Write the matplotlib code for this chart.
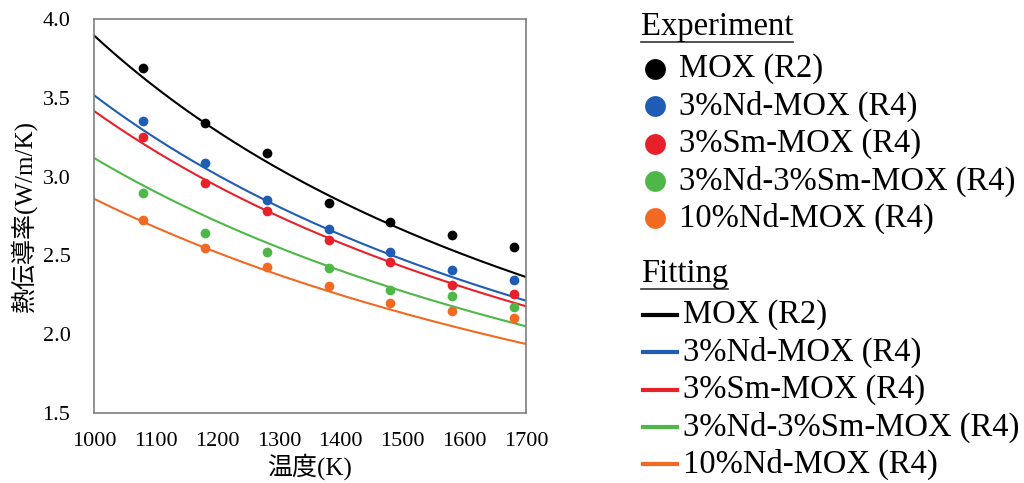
import numpy as np
import matplotlib.pyplot as plt
from matplotlib.lines import Line2D

plt.rcParams['font.family'] = ['Liberation Serif', 'Noto Sans CJK JP']

# measured thermal conductivity (W/m/K)
temp = [1080, 1180, 1280, 1380, 1480, 1580, 1680]
k_mox = [3.69, 3.34, 3.15, 2.83, 2.71, 2.63, 2.555]
k_nd3 = [3.355, 3.085, 2.85, 2.67, 2.52, 2.41, 2.345]
k_sm3 = [3.25, 2.96, 2.78, 2.595, 2.46, 2.31, 2.255]
k_ndsm = [2.895, 2.645, 2.52, 2.42, 2.28, 2.24, 2.175]
k_nd10 = [2.725, 2.55, 2.425, 2.305, 2.195, 2.145, 2.105]

# fitting k = 1/(A + B*T)
fit_A = [0.0188, 0.0451, 0.0547, 0.0820, 0.1121]
fit_B = [2.379e-4, 2.393e-4, 2.380e-4, 2.387e-4, 2.376e-4]

labels = ["MOX (R2)", "3%Nd-MOX (R4)", "3%Sm-MOX (R4)",
          "3%Nd-3%Sm-MOX (R4)", "10%Nd-MOX (R4)"]
cols = ["#000000", "#1F5CB4", "#E8202A", "#4DB848", "#F26A22"]
data = [k_mox, k_nd3, k_sm3, k_ndsm, k_nd10]

fig = plt.figure(figsize=(10.24, 4.83), dpi=100)
ax = fig.add_axes([94/1024, 70/483, 432/1024, 394/483])

T = np.linspace(1000, 1700, 300)
for A, B, c in zip(fit_A, fit_B, cols):
    ax.plot(T, 1/(A + B*T), color=c, lw=1.5)
for k, c in zip(data, cols):
    ax.plot(temp, k, 'o', color=c, ms=7, mec='none')

ax.set_xlim(1000, 1700)
ax.set_ylim(1.5, 4.0)
ax.set_xticks(range(1000, 1701, 100))
ax.set_yticks([1.5, 2.0, 2.5, 3.0, 3.5, 4.0])
ax.set_yticklabels(["%.1f" % v for v in [1.5, 2.0, 2.5, 3.0, 3.5, 4.0]])
ax.tick_params(length=0, labelsize=16)
ax.tick_params(axis='x', pad=14)
ax.tick_params(axis='y', pad=17)
for s in ax.spines.values():
    s.set_color("#7f7f7f")
    s.set_linewidth(1.2)
ax.set_xlabel("温度(K)", fontsize=18, labelpad=1)
ax.set_ylabel("熱伝導率(W/m/K)", fontsize=18, labelpad=4)

# legend drawn by hand in pixel coordinates
W, H = 1024, 483
def px(x, y):
    return x/W, 1 - y/H

def title(x, y, txt):
    t = fig.text(*px(x, y), txt, fontsize=23.5, va='center', ha='left')
    fig.canvas.draw()
    bb = t.get_window_extent()
    yl = 1 - (y + 15)/H
    fig.add_artist(Line2D([bb.x0/W, bb.x1/W], [yl, yl], color='#333333', lw=1.2))

title(641, 27, "Experiment")
for i, (lab, c) in enumerate(zip(labels, cols)):
    y = 69 + i*37.3
    fig.add_artist(Line2D([655/W], [1 - y/H], marker='o', ms=15,
                          color=c, mec='none'))
    fig.text(*px(679, y), lab, fontsize=23.5, va='center', ha='left')

title(641, 274, "Fitting")
for i, (lab, c) in enumerate(zip(labels, cols)):
    y = 315 + i*37.3
    fig.add_artist(Line2D([643/W, 677/W], [1 - y/H]*2, color=c, lw=3))
    fig.text(*px(683, y), lab, fontsize=23.5, va='center', ha='left')

fig.savefig("out.png", dpi=100)
